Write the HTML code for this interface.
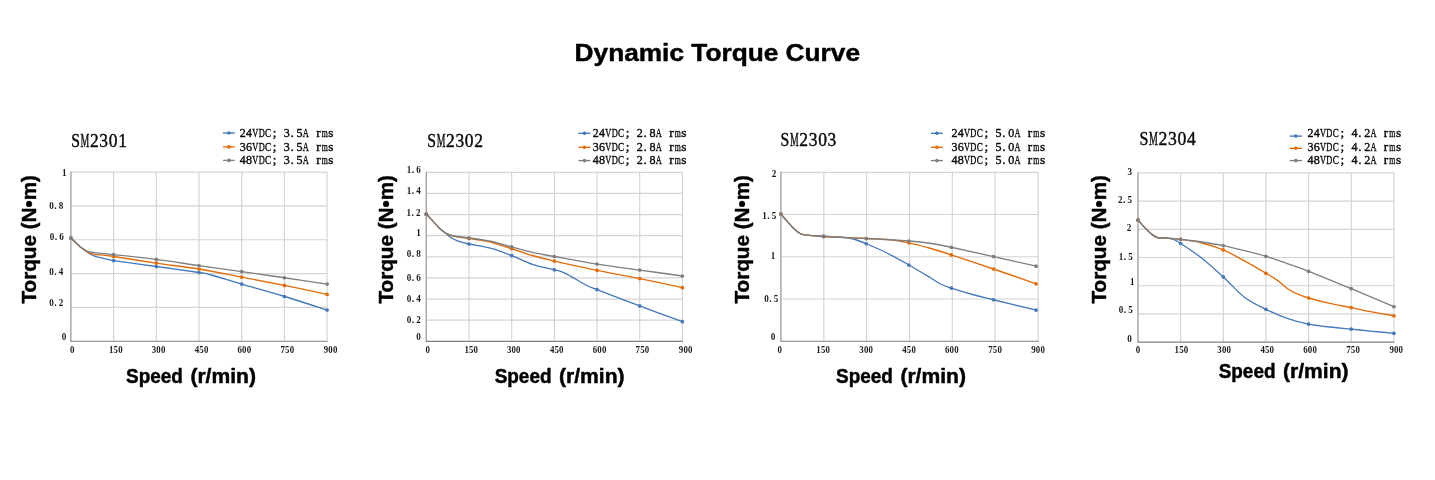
<!DOCTYPE html>
<html><head><meta charset="utf-8"><title>Dynamic Torque Curve</title>
<style>
html,body{margin:0;padding:0;background:#fff;}
body{width:1435px;height:480px;overflow:hidden;font-family:"Liberation Sans",sans-serif;}
svg{display:block;will-change:transform;}
.b{font-family:"Liberation Sans",sans-serif;font-weight:bold;fill:#000;stroke:#000;stroke-width:0.45px;stroke-linejoin:round;}
</style></head><body>
<svg width="1435" height="480" viewBox="0 0 1435 480">
<rect width="1435" height="480" fill="#fff"/>
<text class="b" x="574.6" y="61.0" font-size="24.6" textLength="285.4" lengthAdjust="spacingAndGlyphs">Dynamic Torque Curve</text>
<!-- SM2301 -->
<g>
<path d="M70.9 172.1H327.1M70.9 205.92H327.1M70.9 239.74H327.1M70.9 273.56H327.1M70.9 307.38H327.1M113.6 172.1V341.2M156.3 172.1V341.2M199 172.1V341.2M241.7 172.1V341.2M284.4 172.1V341.2M327.1 172.1V341.2" stroke="#d4d4d4" stroke-width="1.15" fill="none"/>
<path d="M70.9 171.6V341.2" stroke="#a6a6a6" stroke-width="1.45" fill="none"/>
<path d="M70.3 341.2H327.6" stroke="#808080" stroke-width="1.15" fill="none"/>
<path d="M70.9 238.1C71.57 238.72 73.42 240.42 74.9 241.8C76.38 243.18 78.15 245 79.8 246.4C81.45 247.8 83.15 248.98 84.8 250.2C86.45 251.42 88.05 252.72 89.7 253.7C91.35 254.68 92.22 255.27 94.7 256.1C97.18 256.93 101.45 257.95 104.6 258.7C107.75 259.45 104.98 259.3 113.6 260.6C122.22 261.9 142.07 264.52 156.3 266.5C170.53 268.48 190.13 271.17 199 272.5C207.87 273.83 202.38 272.57 209.5 274.5C216.62 276.43 229.22 280.43 241.7 284.1C254.18 287.77 270.17 292.18 284.4 296.5C298.63 300.82 319.98 307.75 327.1 310" stroke="#4378b9" stroke-width="1.35" fill="none" stroke-linecap="round" stroke-linejoin="round"/>
<g fill="#4378b9"><circle cx="70.9" cy="238.1" r="1.85"/><circle cx="113.6" cy="260.6" r="1.85"/><circle cx="156.3" cy="266.5" r="1.85"/><circle cx="199" cy="272.5" r="1.85"/><circle cx="241.7" cy="284.1" r="1.85"/><circle cx="284.4" cy="296.5" r="1.85"/><circle cx="327.1" cy="310" r="1.85"/></g>
<path d="M70.9 238.1C71.57 238.72 73.42 240.42 74.9 241.8C76.38 243.18 78.15 245.02 79.8 246.4C81.45 247.78 83.15 248.97 84.8 250.1C86.45 251.23 88.05 252.5 89.7 253.2C91.35 253.9 92.22 253.95 94.7 254.3C97.18 254.65 101.45 254.93 104.6 255.3C107.75 255.67 104.98 255.2 113.6 256.5C122.22 257.8 142.07 261.02 156.3 263.1C170.53 265.18 184.77 266.67 199 269C213.23 271.33 227.47 274.37 241.7 277.1C255.93 279.83 270.17 282.52 284.4 285.4C298.63 288.28 319.98 292.9 327.1 294.4" stroke="#e36c0a" stroke-width="1.35" fill="none" stroke-linecap="round" stroke-linejoin="round"/>
<g fill="#e36c0a"><circle cx="70.9" cy="238.1" r="1.85"/><circle cx="113.6" cy="256.5" r="1.85"/><circle cx="156.3" cy="263.1" r="1.85"/><circle cx="199" cy="269" r="1.85"/><circle cx="241.7" cy="277.1" r="1.85"/><circle cx="284.4" cy="285.4" r="1.85"/><circle cx="327.1" cy="294.4" r="1.85"/></g>
<path d="M70.9 238.1C71.57 238.72 73.42 240.42 74.9 241.8C76.38 243.18 78.15 245.03 79.8 246.4C81.45 247.77 83.15 249.07 84.8 250C86.45 250.93 88.05 251.55 89.7 252C91.35 252.45 92.22 252.42 94.7 252.7C97.18 252.98 101.45 253.38 104.6 253.7C107.75 254.02 104.98 253.65 113.6 254.6C122.22 255.55 142.07 257.57 156.3 259.4C170.53 261.23 184.77 263.57 199 265.6C213.23 267.63 227.47 269.58 241.7 271.6C255.93 273.62 270.17 275.67 284.4 277.75C298.63 279.83 319.98 283.04 327.1 284.1" stroke="#7f7f7f" stroke-width="1.35" fill="none" stroke-linecap="round" stroke-linejoin="round"/>
<g fill="#7f7f7f"><circle cx="70.9" cy="238.1" r="1.85"/><circle cx="113.6" cy="254.6" r="1.85"/><circle cx="156.3" cy="259.4" r="1.85"/><circle cx="199" cy="265.6" r="1.85"/><circle cx="241.7" cy="271.6" r="1.85"/><circle cx="284.4" cy="277.75" r="1.85"/><circle cx="327.1" cy="284.1" r="1.85"/></g>
<g font-family="Liberation Serif, serif" font-size="19.6" fill="#0a0a0a" font-weight="normal" stroke="#0a0a0a" stroke-width="0.45"><text transform="translate(71.13 147) scale(0.802 1)">S</text><text transform="translate(80.53 147) scale(0.502 1)">M</text><text transform="translate(89.93 147) scale(0.892 1)">2</text><text transform="translate(99.33 147) scale(0.892 1)">3</text><text transform="translate(108.73 147) scale(0.892 1)">0</text><text transform="translate(118.13 147) scale(0.892 1)">1</text></g>
<g font-family="Liberation Serif, serif" font-size="9.8" fill="#1a1a1a" font-weight="bold"><text transform="translate(61.94 175.95) scale(0.931 1)">1</text></g>
<g font-family="Liberation Serif, serif" font-size="9.8" fill="#1a1a1a" font-weight="bold"><text transform="translate(49.24 209.05) scale(0.931 1)">0</text><text x="54.28" y="209.05">.</text><text transform="translate(58.74 209.05) scale(0.931 1)">8</text></g>
<g font-family="Liberation Serif, serif" font-size="9.8" fill="#1a1a1a" font-weight="bold"><text transform="translate(49.64 239.95) scale(0.931 1)">0</text><text x="54.68" y="239.95">.</text><text transform="translate(59.14 239.95) scale(0.931 1)">6</text></g>
<g font-family="Liberation Serif, serif" font-size="9.8" fill="#1a1a1a" font-weight="bold"><text transform="translate(49.24 275.25) scale(0.931 1)">0</text><text x="54.28" y="275.25">.</text><text transform="translate(58.74 275.25) scale(0.931 1)">4</text></g>
<g font-family="Liberation Serif, serif" font-size="9.8" fill="#1a1a1a" font-weight="bold"><text transform="translate(49.24 306.05) scale(0.931 1)">0</text><text x="54.28" y="306.05">.</text><text transform="translate(58.74 306.05) scale(0.931 1)">2</text></g>
<g font-family="Liberation Serif, serif" font-size="9.8" fill="#1a1a1a" font-weight="bold"><text transform="translate(61.64 340.05) scale(0.931 1)">0</text></g>
<g font-family="Liberation Serif, serif" font-size="9.8" fill="#1a1a1a" font-weight="bold"><text transform="translate(70.09 353.3) scale(0.901 1)">0</text></g>
<g font-family="Liberation Serif, serif" font-size="9.8" fill="#1a1a1a" font-weight="bold"><text transform="translate(108.99 353.3) scale(0.901 1)">1</text><text transform="translate(113.59 353.3) scale(0.901 1)">5</text><text transform="translate(118.19 353.3) scale(0.901 1)">0</text></g>
<g font-family="Liberation Serif, serif" font-size="9.8" fill="#1a1a1a" font-weight="bold"><text transform="translate(151.69 353.3) scale(0.901 1)">3</text><text transform="translate(156.29 353.3) scale(0.901 1)">0</text><text transform="translate(160.89 353.3) scale(0.901 1)">0</text></g>
<g font-family="Liberation Serif, serif" font-size="9.8" fill="#1a1a1a" font-weight="bold"><text transform="translate(194.69 353.3) scale(0.901 1)">4</text><text transform="translate(199.29 353.3) scale(0.901 1)">5</text><text transform="translate(203.89 353.3) scale(0.901 1)">0</text></g>
<g font-family="Liberation Serif, serif" font-size="9.8" fill="#1a1a1a" font-weight="bold"><text transform="translate(237.49 353.3) scale(0.901 1)">6</text><text transform="translate(242.09 353.3) scale(0.901 1)">0</text><text transform="translate(246.69 353.3) scale(0.901 1)">0</text></g>
<g font-family="Liberation Serif, serif" font-size="9.8" fill="#1a1a1a" font-weight="bold"><text transform="translate(280.49 353.3) scale(0.901 1)">7</text><text transform="translate(285.09 353.3) scale(0.901 1)">5</text><text transform="translate(289.69 353.3) scale(0.901 1)">0</text></g>
<g font-family="Liberation Serif, serif" font-size="9.8" fill="#1a1a1a" font-weight="bold"><text transform="translate(323.69 353.3) scale(0.901 1)">9</text><text transform="translate(328.29 353.3) scale(0.901 1)">0</text><text transform="translate(332.89 353.3) scale(0.901 1)">0</text></g>
<path d="M223 133H234.8" stroke="#4378b9" stroke-width="1.35"/><circle cx="228.9" cy="133" r="1.8" fill="#4378b9"/>
<g font-family="Liberation Serif, serif" font-size="13.3" fill="#0a0a0a" font-weight="normal" stroke="#0a0a0a" stroke-width="0.4"><text transform="translate(239.73 136.9) scale(0.909 1)">2</text><text transform="translate(246.03 136.9) scale(0.909 1)">4</text><text transform="translate(252.33 136.9) scale(0.630 1)">V</text><text transform="translate(258.63 136.9) scale(0.630 1)">D</text><text transform="translate(264.93 136.9) scale(0.682 1)">C</text><text x="272.74" y="136.9">;</text><text transform="translate(283.83 136.9) scale(0.909 1)">3</text><text x="290.5" y="136.9">.</text><text transform="translate(296.43 136.9) scale(0.909 1)">5</text><text transform="translate(302.73 136.9) scale(0.630 1)">A</text><text x="316.14" y="136.9">r</text><text transform="translate(321.63 136.9) scale(0.584 1)">m</text><text x="328.36" y="136.9">s</text></g>
<path d="M223 146.9H234.8" stroke="#e36c0a" stroke-width="1.35"/><circle cx="228.9" cy="146.9" r="1.8" fill="#e36c0a"/>
<g font-family="Liberation Serif, serif" font-size="13.3" fill="#0a0a0a" font-weight="normal" stroke="#0a0a0a" stroke-width="0.4"><text transform="translate(239.73 150.6) scale(0.909 1)">3</text><text transform="translate(246.03 150.6) scale(0.909 1)">6</text><text transform="translate(252.33 150.6) scale(0.630 1)">V</text><text transform="translate(258.63 150.6) scale(0.630 1)">D</text><text transform="translate(264.93 150.6) scale(0.682 1)">C</text><text x="272.74" y="150.6">;</text><text transform="translate(283.83 150.6) scale(0.909 1)">3</text><text x="290.5" y="150.6">.</text><text transform="translate(296.43 150.6) scale(0.909 1)">5</text><text transform="translate(302.73 150.6) scale(0.630 1)">A</text><text x="316.14" y="150.6">r</text><text transform="translate(321.63 150.6) scale(0.584 1)">m</text><text x="328.36" y="150.6">s</text></g>
<path d="M223 160.4H234.8" stroke="#7f7f7f" stroke-width="1.35"/><circle cx="228.9" cy="160.4" r="1.8" fill="#7f7f7f"/>
<g font-family="Liberation Serif, serif" font-size="13.3" fill="#0a0a0a" font-weight="normal" stroke="#0a0a0a" stroke-width="0.4"><text transform="translate(239.73 163.8) scale(0.909 1)">4</text><text transform="translate(246.03 163.8) scale(0.909 1)">8</text><text transform="translate(252.33 163.8) scale(0.630 1)">V</text><text transform="translate(258.63 163.8) scale(0.630 1)">D</text><text transform="translate(264.93 163.8) scale(0.682 1)">C</text><text x="272.74" y="163.8">;</text><text transform="translate(283.83 163.8) scale(0.909 1)">3</text><text x="290.5" y="163.8">.</text><text transform="translate(296.43 163.8) scale(0.909 1)">5</text><text transform="translate(302.73 163.8) scale(0.630 1)">A</text><text x="316.14" y="163.8">r</text><text transform="translate(321.63 163.8) scale(0.584 1)">m</text><text x="328.36" y="163.8">s</text></g>
<text class="b" x="126.1" y="382.9" font-size="19.8" textLength="56.8" lengthAdjust="spacingAndGlyphs">Speed</text><text class="b" x="190.4" y="382.9" font-size="19.8" textLength="65.6" lengthAdjust="spacingAndGlyphs">(r/min)</text>
<text class="b" transform="translate(36 303.5) rotate(-90)" font-size="20" textLength="128.5" lengthAdjust="spacingAndGlyphs">Torque (N•m)</text>
</g>
<!-- SM2302 -->
<g>
<path d="M426.3 172.3H682.4M426.3 193.43H682.4M426.3 214.55H682.4M426.3 235.68H682.4M426.3 256.8H682.4M426.3 277.93H682.4M426.3 299.05H682.4M426.3 320.18H682.4M469 172.3V341.3M511.7 172.3V341.3M554.4 172.3V341.3M597 172.3V341.3M639.7 172.3V341.3M682.4 172.3V341.3" stroke="#d4d4d4" stroke-width="1.15" fill="none"/>
<path d="M426.3 171.8V341.3" stroke="#a6a6a6" stroke-width="1.45" fill="none"/>
<path d="M425.7 341.3H682.9" stroke="#808080" stroke-width="1.15" fill="none"/>
<path d="M426.3 214.2C427.33 215.27 430.43 218.38 432.5 220.6C434.57 222.82 436.67 225.47 438.75 227.5C440.83 229.53 442.92 231.04 445 232.75C447.08 234.46 449.17 236.39 451.25 237.75C453.33 239.11 454.54 239.86 457.5 240.9C460.46 241.94 463.52 242.78 469 244C474.48 245.22 483.28 246.27 490.4 248.2C497.52 250.13 504.7 252.9 511.7 255.6C518.7 258.3 525.28 262.03 532.4 264.4C539.52 266.77 548.98 268.35 554.4 269.8C559.82 271.25 559.55 270.52 564.9 273.1C570.25 275.68 581.15 282.55 586.5 285.3C591.85 288.05 588.13 286.17 597 289.6C605.87 293.03 625.47 300.55 639.7 305.9C653.93 311.25 675.28 319.07 682.4 321.7" stroke="#4378b9" stroke-width="1.35" fill="none" stroke-linecap="round" stroke-linejoin="round"/>
<g fill="#4378b9"><circle cx="426.3" cy="214.2" r="1.85"/><circle cx="469" cy="244" r="1.85"/><circle cx="511.7" cy="255.6" r="1.85"/><circle cx="554.4" cy="269.8" r="1.85"/><circle cx="597" cy="289.6" r="1.85"/><circle cx="639.7" cy="305.9" r="1.85"/><circle cx="682.4" cy="321.7" r="1.85"/></g>
<path d="M426.3 214.2C427.33 215.27 430.43 218.38 432.5 220.6C434.57 222.82 436.67 225.47 438.75 227.5C440.83 229.53 442.92 231.42 445 232.75C447.08 234.08 449.17 234.82 451.25 235.5C453.33 236.18 454.54 236.3 457.5 236.8C460.46 237.3 463.52 237.63 469 238.5C474.48 239.37 483.28 240.29 490.4 242C497.52 243.71 504.7 246.5 511.7 248.75C518.7 251 525.28 253.44 532.4 255.5C539.52 257.56 543.63 258.63 554.4 261.1C565.17 263.57 582.78 267.38 597 270.3C611.22 273.22 625.47 275.7 639.7 278.6C653.93 281.5 675.28 286.18 682.4 287.7" stroke="#e36c0a" stroke-width="1.35" fill="none" stroke-linecap="round" stroke-linejoin="round"/>
<g fill="#e36c0a"><circle cx="426.3" cy="214.2" r="1.85"/><circle cx="469" cy="238.5" r="1.85"/><circle cx="511.7" cy="248.75" r="1.85"/><circle cx="554.4" cy="261.1" r="1.85"/><circle cx="597" cy="270.3" r="1.85"/><circle cx="639.7" cy="278.6" r="1.85"/><circle cx="682.4" cy="287.7" r="1.85"/></g>
<path d="M426.3 214.2C427.33 215.27 430.43 218.38 432.5 220.6C434.57 222.82 436.67 225.47 438.75 227.5C440.83 229.53 442.92 231.43 445 232.75C447.08 234.07 449.17 234.78 451.25 235.4C453.33 236.03 454.54 236.08 457.5 236.5C460.46 236.92 463.52 237.12 469 237.9C474.48 238.68 483.28 239.7 490.4 241.2C497.52 242.7 504.7 245.05 511.7 246.9C518.7 248.75 525.28 250.7 532.4 252.3C539.52 253.9 543.63 254.53 554.4 256.5C565.17 258.47 582.78 261.83 597 264.1C611.22 266.37 625.47 268.12 639.7 270.1C653.93 272.08 675.28 275.02 682.4 276" stroke="#7f7f7f" stroke-width="1.35" fill="none" stroke-linecap="round" stroke-linejoin="round"/>
<g fill="#7f7f7f"><circle cx="426.3" cy="214.2" r="1.85"/><circle cx="469" cy="237.9" r="1.85"/><circle cx="511.7" cy="246.9" r="1.85"/><circle cx="554.4" cy="256.5" r="1.85"/><circle cx="597" cy="264.1" r="1.85"/><circle cx="639.7" cy="270.1" r="1.85"/><circle cx="682.4" cy="276" r="1.85"/></g>
<g font-family="Liberation Serif, serif" font-size="19.6" fill="#0a0a0a" font-weight="normal" stroke="#0a0a0a" stroke-width="0.45"><text transform="translate(427.23 147) scale(0.802 1)">S</text><text transform="translate(436.63 147) scale(0.502 1)">M</text><text transform="translate(446.03 147) scale(0.892 1)">2</text><text transform="translate(455.43 147) scale(0.892 1)">3</text><text transform="translate(464.83 147) scale(0.892 1)">0</text><text transform="translate(474.23 147) scale(0.892 1)">2</text></g>
<g font-family="Liberation Serif, serif" font-size="9.8" fill="#1a1a1a" font-weight="bold"><text transform="translate(406.65 173.05) scale(0.931 1)">1</text><text x="411.68" y="173.05">.</text><text transform="translate(416.15 173.05) scale(0.931 1)">6</text></g>
<g font-family="Liberation Serif, serif" font-size="9.8" fill="#1a1a1a" font-weight="bold"><text transform="translate(406.65 194.35) scale(0.931 1)">1</text><text x="411.68" y="194.35">.</text><text transform="translate(416.15 194.35) scale(0.931 1)">4</text></g>
<g font-family="Liberation Serif, serif" font-size="9.8" fill="#1a1a1a" font-weight="bold"><text transform="translate(406.45 215.65) scale(0.931 1)">1</text><text x="411.48" y="215.65">.</text><text transform="translate(415.95 215.65) scale(0.931 1)">2</text></g>
<g font-family="Liberation Serif, serif" font-size="9.8" fill="#1a1a1a" font-weight="bold"><text transform="translate(416.35 236.45) scale(0.931 1)">1</text></g>
<g font-family="Liberation Serif, serif" font-size="9.8" fill="#1a1a1a" font-weight="bold"><text transform="translate(406.65 257.15) scale(0.931 1)">0</text><text x="411.68" y="257.15">.</text><text transform="translate(416.15 257.15) scale(0.931 1)">8</text></g>
<g font-family="Liberation Serif, serif" font-size="9.8" fill="#1a1a1a" font-weight="bold"><text transform="translate(406.65 281.45) scale(0.931 1)">0</text><text x="411.68" y="281.45">.</text><text transform="translate(416.15 281.45) scale(0.931 1)">6</text></g>
<g font-family="Liberation Serif, serif" font-size="9.8" fill="#1a1a1a" font-weight="bold"><text transform="translate(406.65 302.25) scale(0.931 1)">0</text><text x="411.68" y="302.25">.</text><text transform="translate(416.15 302.25) scale(0.931 1)">4</text></g>
<g font-family="Liberation Serif, serif" font-size="9.8" fill="#1a1a1a" font-weight="bold"><text transform="translate(406.65 323.15) scale(0.931 1)">0</text><text x="411.68" y="323.15">.</text><text transform="translate(416.15 323.15) scale(0.931 1)">2</text></g>
<g font-family="Liberation Serif, serif" font-size="9.8" fill="#1a1a1a" font-weight="bold"><text transform="translate(416.15 339.85) scale(0.931 1)">0</text></g>
<g font-family="Liberation Serif, serif" font-size="9.8" fill="#1a1a1a" font-weight="bold"><text transform="translate(425.49 353.3) scale(0.901 1)">0</text></g>
<g font-family="Liberation Serif, serif" font-size="9.8" fill="#1a1a1a" font-weight="bold"><text transform="translate(464.39 353.3) scale(0.901 1)">1</text><text transform="translate(468.99 353.3) scale(0.901 1)">5</text><text transform="translate(473.59 353.3) scale(0.901 1)">0</text></g>
<g font-family="Liberation Serif, serif" font-size="9.8" fill="#1a1a1a" font-weight="bold"><text transform="translate(506.89 353.3) scale(0.901 1)">3</text><text transform="translate(511.49 353.3) scale(0.901 1)">0</text><text transform="translate(516.09 353.3) scale(0.901 1)">0</text></g>
<g font-family="Liberation Serif, serif" font-size="9.8" fill="#1a1a1a" font-weight="bold"><text transform="translate(549.89 353.3) scale(0.901 1)">4</text><text transform="translate(554.49 353.3) scale(0.901 1)">5</text><text transform="translate(559.09 353.3) scale(0.901 1)">0</text></g>
<g font-family="Liberation Serif, serif" font-size="9.8" fill="#1a1a1a" font-weight="bold"><text transform="translate(592.69 353.3) scale(0.901 1)">6</text><text transform="translate(597.29 353.3) scale(0.901 1)">0</text><text transform="translate(601.89 353.3) scale(0.901 1)">0</text></g>
<g font-family="Liberation Serif, serif" font-size="9.8" fill="#1a1a1a" font-weight="bold"><text transform="translate(635.59 353.3) scale(0.901 1)">7</text><text transform="translate(640.19 353.3) scale(0.901 1)">5</text><text transform="translate(644.79 353.3) scale(0.901 1)">0</text></g>
<g font-family="Liberation Serif, serif" font-size="9.8" fill="#1a1a1a" font-weight="bold"><text transform="translate(678.79 353.3) scale(0.901 1)">9</text><text transform="translate(683.39 353.3) scale(0.901 1)">0</text><text transform="translate(687.99 353.3) scale(0.901 1)">0</text></g>
<path d="M578.5 133.3H590.5" stroke="#4378b9" stroke-width="1.35"/><circle cx="584.5" cy="133.3" r="1.8" fill="#4378b9"/>
<g font-family="Liberation Serif, serif" font-size="13.3" fill="#0a0a0a" font-weight="normal" stroke="#0a0a0a" stroke-width="0.4"><text transform="translate(592.73 136.9) scale(0.909 1)">2</text><text transform="translate(599.03 136.9) scale(0.909 1)">4</text><text transform="translate(605.33 136.9) scale(0.630 1)">V</text><text transform="translate(611.63 136.9) scale(0.630 1)">D</text><text transform="translate(617.93 136.9) scale(0.682 1)">C</text><text x="625.74" y="136.9">;</text><text transform="translate(636.83 136.9) scale(0.909 1)">2</text><text x="643.5" y="136.9">.</text><text transform="translate(649.43 136.9) scale(0.909 1)">8</text><text transform="translate(655.73 136.9) scale(0.630 1)">A</text><text x="669.14" y="136.9">r</text><text transform="translate(674.63 136.9) scale(0.584 1)">m</text><text x="681.36" y="136.9">s</text></g>
<path d="M578.5 147.3H590.5" stroke="#e36c0a" stroke-width="1.35"/><circle cx="584.5" cy="147.3" r="1.8" fill="#e36c0a"/>
<g font-family="Liberation Serif, serif" font-size="13.3" fill="#0a0a0a" font-weight="normal" stroke="#0a0a0a" stroke-width="0.4"><text transform="translate(592.73 150.6) scale(0.909 1)">3</text><text transform="translate(599.03 150.6) scale(0.909 1)">6</text><text transform="translate(605.33 150.6) scale(0.630 1)">V</text><text transform="translate(611.63 150.6) scale(0.630 1)">D</text><text transform="translate(617.93 150.6) scale(0.682 1)">C</text><text x="625.74" y="150.6">;</text><text transform="translate(636.83 150.6) scale(0.909 1)">2</text><text x="643.5" y="150.6">.</text><text transform="translate(649.43 150.6) scale(0.909 1)">8</text><text transform="translate(655.73 150.6) scale(0.630 1)">A</text><text x="669.14" y="150.6">r</text><text transform="translate(674.63 150.6) scale(0.584 1)">m</text><text x="681.36" y="150.6">s</text></g>
<path d="M578.5 160.6H590.5" stroke="#7f7f7f" stroke-width="1.35"/><circle cx="584.5" cy="160.6" r="1.8" fill="#7f7f7f"/>
<g font-family="Liberation Serif, serif" font-size="13.3" fill="#0a0a0a" font-weight="normal" stroke="#0a0a0a" stroke-width="0.4"><text transform="translate(592.73 163.8) scale(0.909 1)">4</text><text transform="translate(599.03 163.8) scale(0.909 1)">8</text><text transform="translate(605.33 163.8) scale(0.630 1)">V</text><text transform="translate(611.63 163.8) scale(0.630 1)">D</text><text transform="translate(617.93 163.8) scale(0.682 1)">C</text><text x="625.74" y="163.8">;</text><text transform="translate(636.83 163.8) scale(0.909 1)">2</text><text x="643.5" y="163.8">.</text><text transform="translate(649.43 163.8) scale(0.909 1)">8</text><text transform="translate(655.73 163.8) scale(0.630 1)">A</text><text x="669.14" y="163.8">r</text><text transform="translate(674.63 163.8) scale(0.584 1)">m</text><text x="681.36" y="163.8">s</text></g>
<text class="b" x="494.7" y="382.9" font-size="19.8" textLength="56.8" lengthAdjust="spacingAndGlyphs">Speed</text><text class="b" x="559" y="382.9" font-size="19.8" textLength="65.6" lengthAdjust="spacingAndGlyphs">(r/min)</text>
<text class="b" transform="translate(392.8 303.5) rotate(-90)" font-size="20" textLength="128.5" lengthAdjust="spacingAndGlyphs">Torque (N•m)</text>
</g>
<!-- SM2303 -->
<g>
<path d="M780.9 172.3H1038.2M780.9 214.53H1038.2M780.9 256.75H1038.2M780.9 298.98H1038.2M823.8 172.3V341.2M866.6 172.3V341.2M909.5 172.3V341.2M952.3 172.3V341.2M995.1 172.3V341.2M1038.2 172.3V341.2" stroke="#d4d4d4" stroke-width="1.15" fill="none"/>
<path d="M780.9 171.8V341.2" stroke="#a6a6a6" stroke-width="1.45" fill="none"/>
<path d="M780.3 341.2H1038.7" stroke="#808080" stroke-width="1.15" fill="none"/>
<path d="M780.9 214.1C782 215.35 785.36 219.18 787.5 221.6C789.64 224.02 791.75 226.67 793.75 228.6C795.75 230.53 797.88 232.18 799.5 233.2C801.12 234.22 801.33 234.3 803.5 234.7C805.67 235.1 809.15 235.38 812.5 235.6C815.85 235.82 818.18 235.68 823.6 236C829.02 236.32 839.77 236.92 845 237.5C850.23 238.08 851.45 238.46 855 239.5C858.55 240.54 860.88 241.46 866.3 243.75C871.72 246.04 880.4 249.71 887.5 253.25C894.6 256.79 901.82 260.96 908.9 265C915.98 269.04 924.82 274.38 930 277.5C935.18 280.62 936.45 281.98 940 283.75C943.55 285.52 945.88 286.31 951.3 288.1C956.72 289.89 965.47 292.56 972.5 294.5C979.53 296.44 982.9 297.15 993.5 299.75C1004.1 302.35 1029 308.38 1036.1 310.1" stroke="#4378b9" stroke-width="1.35" fill="none" stroke-linecap="round" stroke-linejoin="round"/>
<g fill="#4378b9"><circle cx="780.9" cy="214.1" r="1.85"/><circle cx="823.6" cy="236" r="1.85"/><circle cx="866.3" cy="243.75" r="1.85"/><circle cx="908.9" cy="265" r="1.85"/><circle cx="951.3" cy="288.1" r="1.85"/><circle cx="993.5" cy="299.75" r="1.85"/><circle cx="1036.1" cy="310.1" r="1.85"/></g>
<path d="M780.9 214.1C782 215.35 785.36 219.18 787.5 221.6C789.64 224.02 791.75 226.67 793.75 228.6C795.75 230.53 797.88 232.18 799.5 233.2C801.12 234.22 801.33 234.3 803.5 234.7C805.67 235.1 809.15 235.3 812.5 235.6C815.85 235.9 814.63 236.02 823.6 236.5C832.57 236.98 855.65 238 866.3 238.5C876.95 239 880.4 238.78 887.5 239.5C894.6 240.22 901.82 241.34 908.9 242.8C915.98 244.26 922.93 246.23 930 248.25C937.07 250.27 940.72 251.44 951.3 254.9C961.88 258.36 979.37 264.18 993.5 269C1007.63 273.82 1029 281.33 1036.1 283.8" stroke="#e36c0a" stroke-width="1.35" fill="none" stroke-linecap="round" stroke-linejoin="round"/>
<g fill="#e36c0a"><circle cx="780.9" cy="214.1" r="1.85"/><circle cx="823.6" cy="236.5" r="1.85"/><circle cx="866.3" cy="238.5" r="1.85"/><circle cx="908.9" cy="242.8" r="1.85"/><circle cx="951.3" cy="254.9" r="1.85"/><circle cx="993.5" cy="269" r="1.85"/><circle cx="1036.1" cy="283.8" r="1.85"/></g>
<path d="M780.9 214.1C782 215.35 785.36 219.18 787.5 221.6C789.64 224.02 791.75 226.67 793.75 228.6C795.75 230.53 797.88 232.18 799.5 233.2C801.12 234.22 801.33 234.3 803.5 234.7C805.67 235.1 809.15 235.27 812.5 235.6C815.85 235.93 814.63 236.22 823.6 236.7C832.57 237.18 852.08 237.78 866.3 238.5C880.52 239.22 898.28 240.21 908.9 241C919.52 241.79 922.93 242.21 930 243.25C937.07 244.29 940.72 245.03 951.3 247.25C961.88 249.47 979.37 253.44 993.5 256.6C1007.63 259.76 1029 264.6 1036.1 266.2" stroke="#7f7f7f" stroke-width="1.35" fill="none" stroke-linecap="round" stroke-linejoin="round"/>
<g fill="#7f7f7f"><circle cx="780.9" cy="214.1" r="1.85"/><circle cx="823.6" cy="236.7" r="1.85"/><circle cx="866.3" cy="238.5" r="1.85"/><circle cx="908.9" cy="241" r="1.85"/><circle cx="951.3" cy="247.25" r="1.85"/><circle cx="993.5" cy="256.6" r="1.85"/><circle cx="1036.1" cy="266.2" r="1.85"/></g>
<g font-family="Liberation Serif, serif" font-size="19.6" fill="#0a0a0a" font-weight="normal" stroke="#0a0a0a" stroke-width="0.45"><text transform="translate(780.53 146) scale(0.802 1)">S</text><text transform="translate(789.93 146) scale(0.502 1)">M</text><text transform="translate(799.33 146) scale(0.892 1)">2</text><text transform="translate(808.73 146) scale(0.892 1)">3</text><text transform="translate(818.13 146) scale(0.892 1)">0</text><text transform="translate(827.53 146) scale(0.892 1)">3</text></g>
<g font-family="Liberation Serif, serif" font-size="9.8" fill="#1a1a1a" font-weight="bold"><text transform="translate(771.75 177.1) scale(0.931 1)">2</text></g>
<g font-family="Liberation Serif, serif" font-size="9.8" fill="#1a1a1a" font-weight="bold"><text transform="translate(762.25 219.15) scale(0.931 1)">1</text><text x="767.28" y="219.15">.</text><text transform="translate(771.75 219.15) scale(0.931 1)">5</text></g>
<g font-family="Liberation Serif, serif" font-size="9.8" fill="#1a1a1a" font-weight="bold"><text transform="translate(770.75 258.85) scale(0.931 1)">1</text></g>
<g font-family="Liberation Serif, serif" font-size="9.8" fill="#1a1a1a" font-weight="bold"><text transform="translate(764.25 302.25) scale(0.931 1)">0</text><text x="769.28" y="302.25">.</text><text transform="translate(773.75 302.25) scale(0.931 1)">5</text></g>
<g font-family="Liberation Serif, serif" font-size="9.8" fill="#1a1a1a" font-weight="bold"><text transform="translate(770.75 339.85) scale(0.931 1)">0</text></g>
<g font-family="Liberation Serif, serif" font-size="9.8" fill="#1a1a1a" font-weight="bold"><text transform="translate(777.49 353.3) scale(0.901 1)">0</text></g>
<g font-family="Liberation Serif, serif" font-size="9.8" fill="#1a1a1a" font-weight="bold"><text transform="translate(816.29 353.3) scale(0.901 1)">1</text><text transform="translate(820.89 353.3) scale(0.901 1)">5</text><text transform="translate(825.49 353.3) scale(0.901 1)">0</text></g>
<g font-family="Liberation Serif, serif" font-size="9.8" fill="#1a1a1a" font-weight="bold"><text transform="translate(859.29 353.3) scale(0.901 1)">3</text><text transform="translate(863.89 353.3) scale(0.901 1)">0</text><text transform="translate(868.49 353.3) scale(0.901 1)">0</text></g>
<g font-family="Liberation Serif, serif" font-size="9.8" fill="#1a1a1a" font-weight="bold"><text transform="translate(902.19 353.3) scale(0.901 1)">4</text><text transform="translate(906.79 353.3) scale(0.901 1)">5</text><text transform="translate(911.39 353.3) scale(0.901 1)">0</text></g>
<g font-family="Liberation Serif, serif" font-size="9.8" fill="#1a1a1a" font-weight="bold"><text transform="translate(944.99 353.3) scale(0.901 1)">6</text><text transform="translate(949.59 353.3) scale(0.901 1)">0</text><text transform="translate(954.19 353.3) scale(0.901 1)">0</text></g>
<g font-family="Liberation Serif, serif" font-size="9.8" fill="#1a1a1a" font-weight="bold"><text transform="translate(988.19 353.3) scale(0.901 1)">7</text><text transform="translate(992.79 353.3) scale(0.901 1)">5</text><text transform="translate(997.39 353.3) scale(0.901 1)">0</text></g>
<g font-family="Liberation Serif, serif" font-size="9.8" fill="#1a1a1a" font-weight="bold"><text transform="translate(1031.19 353.3) scale(0.901 1)">9</text><text transform="translate(1035.79 353.3) scale(0.901 1)">0</text><text transform="translate(1040.39 353.3) scale(0.901 1)">0</text></g>
<path d="M930.9 133.3H942.9" stroke="#4378b9" stroke-width="1.35"/><circle cx="936.9" cy="133.3" r="1.8" fill="#4378b9"/>
<g font-family="Liberation Serif, serif" font-size="13.3" fill="#0a0a0a" font-weight="normal" stroke="#0a0a0a" stroke-width="0.4"><text transform="translate(951.43 136.9) scale(0.909 1)">2</text><text transform="translate(957.73 136.9) scale(0.909 1)">4</text><text transform="translate(964.03 136.9) scale(0.630 1)">V</text><text transform="translate(970.33 136.9) scale(0.630 1)">D</text><text transform="translate(976.63 136.9) scale(0.682 1)">C</text><text x="984.44" y="136.9">;</text><text transform="translate(995.53 136.9) scale(0.909 1)">5</text><text x="1002.2" y="136.9">.</text><text transform="translate(1008.13 136.9) scale(0.909 1)">0</text><text transform="translate(1014.43 136.9) scale(0.630 1)">A</text><text x="1027.84" y="136.9">r</text><text transform="translate(1033.33 136.9) scale(0.584 1)">m</text><text x="1040.06" y="136.9">s</text></g>
<path d="M930.9 147.3H942.9" stroke="#e36c0a" stroke-width="1.35"/><circle cx="936.9" cy="147.3" r="1.8" fill="#e36c0a"/>
<g font-family="Liberation Serif, serif" font-size="13.3" fill="#0a0a0a" font-weight="normal" stroke="#0a0a0a" stroke-width="0.4"><text transform="translate(951.43 150.6) scale(0.909 1)">3</text><text transform="translate(957.73 150.6) scale(0.909 1)">6</text><text transform="translate(964.03 150.6) scale(0.630 1)">V</text><text transform="translate(970.33 150.6) scale(0.630 1)">D</text><text transform="translate(976.63 150.6) scale(0.682 1)">C</text><text x="984.44" y="150.6">;</text><text transform="translate(995.53 150.6) scale(0.909 1)">5</text><text x="1002.2" y="150.6">.</text><text transform="translate(1008.13 150.6) scale(0.909 1)">0</text><text transform="translate(1014.43 150.6) scale(0.630 1)">A</text><text x="1027.84" y="150.6">r</text><text transform="translate(1033.33 150.6) scale(0.584 1)">m</text><text x="1040.06" y="150.6">s</text></g>
<path d="M930.9 160.6H942.9" stroke="#7f7f7f" stroke-width="1.35"/><circle cx="936.9" cy="160.6" r="1.8" fill="#7f7f7f"/>
<g font-family="Liberation Serif, serif" font-size="13.3" fill="#0a0a0a" font-weight="normal" stroke="#0a0a0a" stroke-width="0.4"><text transform="translate(951.43 163.8) scale(0.909 1)">4</text><text transform="translate(957.73 163.8) scale(0.909 1)">8</text><text transform="translate(964.03 163.8) scale(0.630 1)">V</text><text transform="translate(970.33 163.8) scale(0.630 1)">D</text><text transform="translate(976.63 163.8) scale(0.682 1)">C</text><text x="984.44" y="163.8">;</text><text transform="translate(995.53 163.8) scale(0.909 1)">5</text><text x="1002.2" y="163.8">.</text><text transform="translate(1008.13 163.8) scale(0.909 1)">0</text><text transform="translate(1014.43 163.8) scale(0.630 1)">A</text><text x="1027.84" y="163.8">r</text><text transform="translate(1033.33 163.8) scale(0.584 1)">m</text><text x="1040.06" y="163.8">s</text></g>
<text class="b" x="836.1" y="382.9" font-size="19.8" textLength="56.8" lengthAdjust="spacingAndGlyphs">Speed</text><text class="b" x="900.4" y="382.9" font-size="19.8" textLength="65.6" lengthAdjust="spacingAndGlyphs">(r/min)</text>
<text class="b" transform="translate(749.1 303.5) rotate(-90)" font-size="20" textLength="128.5" lengthAdjust="spacingAndGlyphs">Torque (N•m)</text>
</g>
<!-- SM2304 -->
<g>
<path d="M1138 172.9H1393.9M1138 201.1H1393.9M1138 229.3H1393.9M1138 257.5H1393.9M1138 285.7H1393.9M1138 313.9H1393.9M1180.65 172.9V342.1M1223.3 172.9V342.1M1265.95 172.9V342.1M1308.6 172.9V342.1M1351.25 172.9V342.1M1393.9 172.9V342.1" stroke="#d4d4d4" stroke-width="1.15" fill="none"/>
<path d="M1138 172.4V342.1" stroke="#a6a6a6" stroke-width="1.45" fill="none"/>
<path d="M1137.4 342.1H1394.4" stroke="#808080" stroke-width="1.15" fill="none"/>
<path d="M1138 220C1139.17 221.3 1142.58 225.32 1145 227.8C1147.42 230.28 1150.32 233.24 1152.5 234.9C1154.68 236.56 1155.6 237.22 1158.1 237.75C1160.6 238.28 1164.68 237.72 1167.5 238.1C1170.32 238.47 1172.81 239.1 1175 240C1177.19 240.9 1176.17 240.47 1180.65 243.5C1185.13 246.53 1194.79 252.63 1201.9 258.2C1209.01 263.77 1216.22 270.4 1223.3 276.9C1230.38 283.4 1237.29 291.8 1244.4 297.2C1251.51 302.6 1258.82 305.78 1265.95 309.3C1273.08 312.82 1280.09 315.82 1287.2 318.3C1294.31 320.78 1301.52 322.75 1308.6 324.2C1315.68 325.65 1322.59 326.18 1329.7 327C1336.81 327.82 1344.03 328.38 1351.25 329.1C1358.47 329.82 1365.89 330.6 1373 331.3C1380.11 332 1390.42 332.97 1393.9 333.3" stroke="#4378b9" stroke-width="1.35" fill="none" stroke-linecap="round" stroke-linejoin="round"/>
<g fill="#4378b9"><circle cx="1138" cy="220" r="1.85"/><circle cx="1180.65" cy="243.5" r="1.85"/><circle cx="1223.3" cy="276.9" r="1.85"/><circle cx="1265.95" cy="309.3" r="1.85"/><circle cx="1308.6" cy="324.2" r="1.85"/><circle cx="1351.25" cy="329.1" r="1.85"/><circle cx="1393.9" cy="333.3" r="1.85"/></g>
<path d="M1138 220C1139.17 221.3 1142.58 225.32 1145 227.8C1147.42 230.28 1150.32 233.24 1152.5 234.9C1154.68 236.56 1155.6 237.2 1158.1 237.75C1160.6 238.3 1164.68 238.02 1167.5 238.2C1170.32 238.38 1172.81 238.6 1175 238.8C1177.19 239 1176.17 238.7 1180.65 239.4C1185.13 240.1 1194.79 241.25 1201.9 243C1209.01 244.75 1216.22 246.92 1223.3 249.9C1230.38 252.88 1237.29 257.01 1244.4 260.9C1251.51 264.79 1260.32 269.92 1265.95 273.25C1271.58 276.58 1274.66 278.36 1278.2 280.9C1281.74 283.44 1284.03 286.33 1287.2 288.5C1290.37 290.67 1293.63 292.32 1297.2 293.9C1300.77 295.48 1303.18 296.42 1308.6 298C1314.02 299.58 1322.59 301.78 1329.7 303.4C1336.81 305.02 1344.03 306.25 1351.25 307.7C1358.47 309.15 1365.89 310.75 1373 312.1C1380.11 313.45 1390.42 315.18 1393.9 315.8" stroke="#e36c0a" stroke-width="1.35" fill="none" stroke-linecap="round" stroke-linejoin="round"/>
<g fill="#e36c0a"><circle cx="1138" cy="220" r="1.85"/><circle cx="1180.65" cy="239.4" r="1.85"/><circle cx="1223.3" cy="249.9" r="1.85"/><circle cx="1265.95" cy="273.25" r="1.85"/><circle cx="1308.6" cy="298" r="1.85"/><circle cx="1351.25" cy="307.7" r="1.85"/><circle cx="1393.9" cy="315.8" r="1.85"/></g>
<path d="M1138 220C1139.17 221.3 1142.58 225.32 1145 227.8C1147.42 230.28 1150.32 233.24 1152.5 234.9C1154.68 236.56 1155.6 237.22 1158.1 237.75C1160.6 238.28 1164.68 237.94 1167.5 238.1C1170.32 238.26 1172.81 238.5 1175 238.7C1177.19 238.9 1176.17 238.75 1180.65 239.3C1185.13 239.85 1194.79 240.95 1201.9 242C1209.01 243.05 1216.22 244.17 1223.3 245.6C1230.38 247.03 1237.29 248.82 1244.4 250.6C1251.51 252.38 1258.82 254.13 1265.95 256.3C1273.08 258.47 1280.09 261.1 1287.2 263.6C1294.31 266.1 1297.92 267.12 1308.6 271.3C1319.27 275.48 1337.03 282.8 1351.25 288.7C1365.47 294.6 1386.79 303.7 1393.9 306.7" stroke="#7f7f7f" stroke-width="1.35" fill="none" stroke-linecap="round" stroke-linejoin="round"/>
<g fill="#7f7f7f"><circle cx="1138" cy="220" r="1.85"/><circle cx="1180.65" cy="239.3" r="1.85"/><circle cx="1223.3" cy="245.6" r="1.85"/><circle cx="1265.95" cy="256.3" r="1.85"/><circle cx="1308.6" cy="271.3" r="1.85"/><circle cx="1351.25" cy="288.7" r="1.85"/><circle cx="1393.9" cy="306.7" r="1.85"/></g>
<g font-family="Liberation Serif, serif" font-size="19.6" fill="#0a0a0a" font-weight="normal" stroke="#0a0a0a" stroke-width="0.45"><text transform="translate(1139.53 145.1) scale(0.811 1)">S</text><text transform="translate(1149.03 145.1) scale(0.507 1)">M</text><text transform="translate(1158.53 145.1) scale(0.902 1)">2</text><text transform="translate(1168.03 145.1) scale(0.902 1)">3</text><text transform="translate(1177.53 145.1) scale(0.902 1)">0</text><text transform="translate(1187.03 145.1) scale(0.902 1)">4</text></g>
<g font-family="Liberation Serif, serif" font-size="9.8" fill="#1a1a1a" font-weight="bold"><text transform="translate(1127.55 175.15) scale(0.931 1)">3</text></g>
<g font-family="Liberation Serif, serif" font-size="9.8" fill="#1a1a1a" font-weight="bold"><text transform="translate(1118.05 203.35) scale(0.931 1)">2</text><text x="1123.08" y="203.35">.</text><text transform="translate(1127.55 203.35) scale(0.931 1)">5</text></g>
<g font-family="Liberation Serif, serif" font-size="9.8" fill="#1a1a1a" font-weight="bold"><text transform="translate(1126.75 231.25) scale(0.931 1)">2</text></g>
<g font-family="Liberation Serif, serif" font-size="9.8" fill="#1a1a1a" font-weight="bold"><text transform="translate(1118.64 260.15) scale(0.931 1)">1</text><text x="1123.68" y="260.15">.</text><text transform="translate(1128.14 260.15) scale(0.931 1)">5</text></g>
<g font-family="Liberation Serif, serif" font-size="9.8" fill="#1a1a1a" font-weight="bold"><text transform="translate(1130.05 285.25) scale(0.931 1)">1</text></g>
<g font-family="Liberation Serif, serif" font-size="9.8" fill="#1a1a1a" font-weight="bold"><text transform="translate(1118.64 313.15) scale(0.931 1)">0</text><text x="1123.68" y="313.15">.</text><text transform="translate(1128.14 313.15) scale(0.931 1)">5</text></g>
<g font-family="Liberation Serif, serif" font-size="9.8" fill="#1a1a1a" font-weight="bold"><text transform="translate(1127.14 342.05) scale(0.931 1)">0</text></g>
<g font-family="Liberation Serif, serif" font-size="9.8" fill="#1a1a1a" font-weight="bold"><text transform="translate(1135.79 353.3) scale(0.901 1)">0</text></g>
<g font-family="Liberation Serif, serif" font-size="9.8" fill="#1a1a1a" font-weight="bold"><text transform="translate(1174.59 353.3) scale(0.901 1)">1</text><text transform="translate(1179.19 353.3) scale(0.901 1)">5</text><text transform="translate(1183.79 353.3) scale(0.901 1)">0</text></g>
<g font-family="Liberation Serif, serif" font-size="9.8" fill="#1a1a1a" font-weight="bold"><text transform="translate(1217.29 353.3) scale(0.901 1)">3</text><text transform="translate(1221.89 353.3) scale(0.901 1)">0</text><text transform="translate(1226.49 353.3) scale(0.901 1)">0</text></g>
<g font-family="Liberation Serif, serif" font-size="9.8" fill="#1a1a1a" font-weight="bold"><text transform="translate(1260.39 353.3) scale(0.901 1)">4</text><text transform="translate(1264.99 353.3) scale(0.901 1)">5</text><text transform="translate(1269.59 353.3) scale(0.901 1)">0</text></g>
<g font-family="Liberation Serif, serif" font-size="9.8" fill="#1a1a1a" font-weight="bold"><text transform="translate(1303.19 353.3) scale(0.901 1)">6</text><text transform="translate(1307.79 353.3) scale(0.901 1)">0</text><text transform="translate(1312.39 353.3) scale(0.901 1)">0</text></g>
<g font-family="Liberation Serif, serif" font-size="9.8" fill="#1a1a1a" font-weight="bold"><text transform="translate(1346.19 353.3) scale(0.901 1)">7</text><text transform="translate(1350.79 353.3) scale(0.901 1)">5</text><text transform="translate(1355.39 353.3) scale(0.901 1)">0</text></g>
<g font-family="Liberation Serif, serif" font-size="9.8" fill="#1a1a1a" font-weight="bold"><text transform="translate(1389.39 353.3) scale(0.901 1)">9</text><text transform="translate(1393.99 353.3) scale(0.901 1)">0</text><text transform="translate(1398.59 353.3) scale(0.901 1)">0</text></g>
<path d="M1289.7 136.1H1301.9" stroke="#4378b9" stroke-width="1.35"/><circle cx="1295.8" cy="136.1" r="1.8" fill="#4378b9"/>
<g font-family="Liberation Serif, serif" font-size="13.3" fill="#0a0a0a" font-weight="normal" stroke="#0a0a0a" stroke-width="0.4"><text transform="translate(1307.43 136.9) scale(0.909 1)">2</text><text transform="translate(1313.73 136.9) scale(0.909 1)">4</text><text transform="translate(1320.03 136.9) scale(0.630 1)">V</text><text transform="translate(1326.33 136.9) scale(0.630 1)">D</text><text transform="translate(1332.63 136.9) scale(0.682 1)">C</text><text x="1340.44" y="136.9">;</text><text transform="translate(1351.53 136.9) scale(0.909 1)">4</text><text x="1358.2" y="136.9">.</text><text transform="translate(1364.13 136.9) scale(0.909 1)">2</text><text transform="translate(1370.43 136.9) scale(0.630 1)">A</text><text x="1383.84" y="136.9">r</text><text transform="translate(1389.33 136.9) scale(0.584 1)">m</text><text x="1396.06" y="136.9">s</text></g>
<path d="M1289.7 148.3H1301.9" stroke="#e36c0a" stroke-width="1.35"/><circle cx="1295.8" cy="148.3" r="1.8" fill="#e36c0a"/>
<g font-family="Liberation Serif, serif" font-size="13.3" fill="#0a0a0a" font-weight="normal" stroke="#0a0a0a" stroke-width="0.4"><text transform="translate(1307.43 150.6) scale(0.909 1)">3</text><text transform="translate(1313.73 150.6) scale(0.909 1)">6</text><text transform="translate(1320.03 150.6) scale(0.630 1)">V</text><text transform="translate(1326.33 150.6) scale(0.630 1)">D</text><text transform="translate(1332.63 150.6) scale(0.682 1)">C</text><text x="1340.44" y="150.6">;</text><text transform="translate(1351.53 150.6) scale(0.909 1)">4</text><text x="1358.2" y="150.6">.</text><text transform="translate(1364.13 150.6) scale(0.909 1)">2</text><text transform="translate(1370.43 150.6) scale(0.630 1)">A</text><text x="1383.84" y="150.6">r</text><text transform="translate(1389.33 150.6) scale(0.584 1)">m</text><text x="1396.06" y="150.6">s</text></g>
<path d="M1289.7 160.6H1301.9" stroke="#7f7f7f" stroke-width="1.35"/><circle cx="1295.8" cy="160.6" r="1.8" fill="#7f7f7f"/>
<g font-family="Liberation Serif, serif" font-size="13.3" fill="#0a0a0a" font-weight="normal" stroke="#0a0a0a" stroke-width="0.4"><text transform="translate(1307.43 163.8) scale(0.909 1)">4</text><text transform="translate(1313.73 163.8) scale(0.909 1)">8</text><text transform="translate(1320.03 163.8) scale(0.630 1)">V</text><text transform="translate(1326.33 163.8) scale(0.630 1)">D</text><text transform="translate(1332.63 163.8) scale(0.682 1)">C</text><text x="1340.44" y="163.8">;</text><text transform="translate(1351.53 163.8) scale(0.909 1)">4</text><text x="1358.2" y="163.8">.</text><text transform="translate(1364.13 163.8) scale(0.909 1)">2</text><text transform="translate(1370.43 163.8) scale(0.630 1)">A</text><text x="1383.84" y="163.8">r</text><text transform="translate(1389.33 163.8) scale(0.584 1)">m</text><text x="1396.06" y="163.8">s</text></g>
<text class="b" x="1218.7" y="378.3" font-size="19.8" textLength="56.8" lengthAdjust="spacingAndGlyphs">Speed</text><text class="b" x="1283" y="378.3" font-size="19.8" textLength="65.6" lengthAdjust="spacingAndGlyphs">(r/min)</text>
<text class="b" transform="translate(1106 303.5) rotate(-90)" font-size="20" textLength="128.5" lengthAdjust="spacingAndGlyphs">Torque (N•m)</text>
</g>
</svg>
</body></html>
